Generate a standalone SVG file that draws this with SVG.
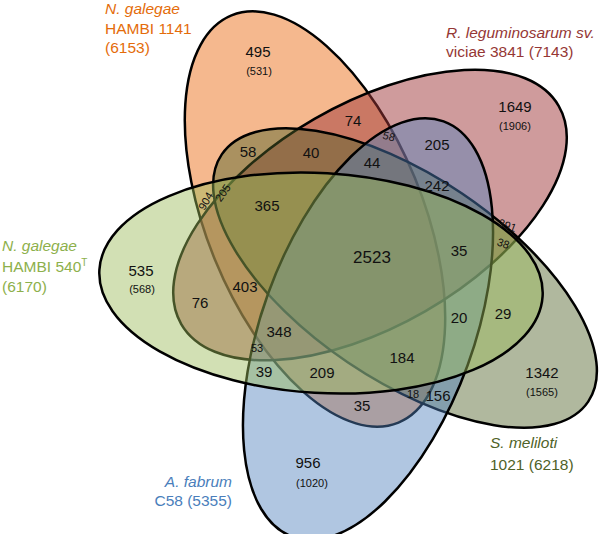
<svg xmlns="http://www.w3.org/2000/svg" width="600" height="534" viewBox="0 0 600 534">
<style>
.e{stroke:#000;stroke-width:2.5}
.n{font-family:"Liberation Sans",Arial,sans-serif;font-size:15px;fill:#111;text-anchor:middle}
.big{font-size:17px}
.s{font-family:"Liberation Sans",Arial,sans-serif;font-size:11px;fill:#111;text-anchor:middle}
.lab{font-family:"Liberation Sans",Arial,sans-serif;font-size:15.5px}
</style>
<rect width="600" height="534" fill="#fff"/>
<g id="set-ng1141">
<ellipse class="e" cx="315" cy="219" rx="220" ry="108" transform="rotate(67.7 315 219)" fill="#ED7D31" fill-opacity="0.55"/>
<text class="lab" fill="#E46C0A" x="105" y="14" font-style="italic">N. galegae</text>
<text class="lab" fill="#E46C0A" x="105" y="34">HAMBI 1141</text>
<text class="lab" fill="#E46C0A" x="105" y="53">(6153)</text>
</g>
<g id="set-rleg">
<ellipse class="e" cx="370" cy="215" rx="218" ry="111" transform="rotate(-30 370 215)" fill="#A0383A" fill-opacity="0.5"/>
<text class="lab" fill="#953735" x="446" y="38" font-style="italic">R. leguminosarum sv.</text>
<text class="lab" fill="#953735" x="446" y="57">viciae 3841 (7143)</text>
</g>
<g id="set-smel">
<ellipse class="e" cx="405" cy="278" rx="221" ry="102" transform="rotate(34 405 278)" fill="#4F6228" fill-opacity="0.45"/>
<text class="lab" fill="#4F6228" x="490" y="448" font-style="italic">S. meliloti</text>
<text class="lab" fill="#4F6228" x="490" y="470">1021 (6218)</text>
</g>
<g id="set-afab">
<ellipse class="e" cx="368" cy="329" rx="221" ry="106" transform="rotate(-70 368 329)" fill="#4F81BD" fill-opacity="0.45"/>
<text class="lab" fill="#4A7EBB" x="232" y="487" text-anchor="end" font-style="italic">A. fabrum</text>
<text class="lab" fill="#4A7EBB" x="232" y="506" text-anchor="end">C58 (5355)</text>
</g>
<g id="set-ng540">
<ellipse class="e" cx="321" cy="283" rx="222" ry="110" transform="rotate(3.4 321 283)" fill="#9BBB59" fill-opacity="0.45"/>
<text class="lab" fill="#8DB04B" x="2" y="251" font-style="italic">N. galegae</text>
<text class="lab" fill="#8DB04B" x="2" y="272">HAMBI 540<tspan font-size="10" dy="-6">T</tspan></text>
<text class="lab" fill="#8DB04B" x="2" y="292">(6170)</text>
</g>
<g id="counts">
<text class="n" x="258" y="57">495</text><text class="s" x="259" y="75">(531)</text>
<text class="n" x="515" y="112">1649</text><text class="s" x="515" y="130">(1906)</text>
<text class="n" x="141" y="276">535</text><text class="s" x="142" y="293">(568)</text>
<text class="n" x="542" y="378">1342</text><text class="s" x="542" y="396">(1565)</text>
<text class="n" x="308" y="468">956</text><text class="s" x="312" y="487">(1020)</text>
<text class="n" x="353" y="126">74</text>
<text class="n" x="248" y="157">58</text>
<text class="n" x="311" y="158">40</text>
<text class="n" x="372" y="168">44</text>
<text class="n" x="437" y="150">205</text>
<text class="n" x="437" y="191">242</text>
<text class="s" transform="translate(388 140) rotate(15)">58</text>
<text class="s" transform="translate(209 203) rotate(-60)">904</text>
<text class="s" transform="translate(226 195) rotate(-55)">205</text>
<text class="n" x="267" y="211">365</text>
<text class="n big" x="372" y="263">2523</text>
<text class="n" x="459" y="256">35</text>
<text class="s" transform="translate(506 229) rotate(20)">391</text>
<text class="s" transform="translate(502 247) rotate(20)">38</text>
<text class="n" x="200" y="308">76</text>
<text class="n" x="245" y="292">403</text>
<text class="n" x="279" y="337">348</text>
<text class="s" x="257" y="352">53</text>
<text class="n" x="264" y="377">39</text>
<text class="n" x="322" y="378">209</text>
<text class="n" x="362" y="411">35</text>
<text class="n" x="459" y="323">20</text>
<text class="n" x="503" y="319">29</text>
<text class="n" x="402" y="363">184</text>
<text class="s" x="413" y="398">18</text>
<text class="n" x="438" y="401">156</text>
</g>
</svg>
